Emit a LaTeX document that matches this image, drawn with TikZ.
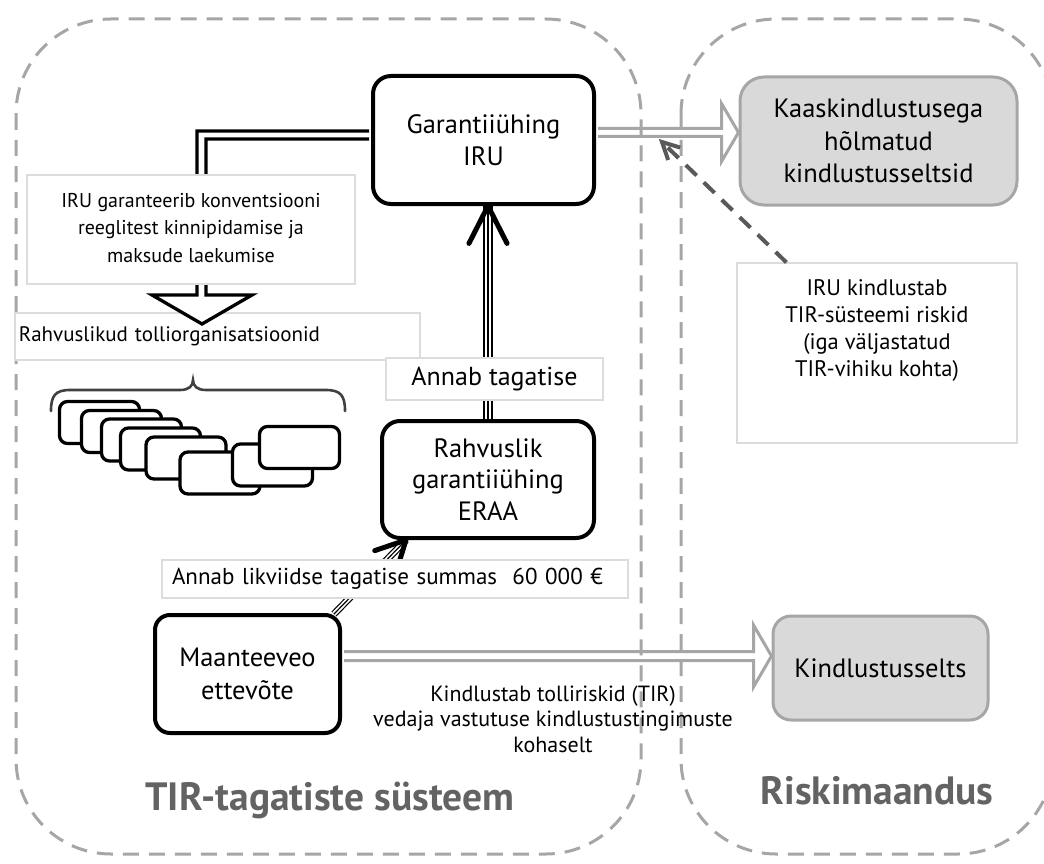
\documentclass[tikz,border=0pt]{standalone}
\usepackage{fontspec}
\setmainfont{PT Sans}
\usetikzlibrary{calc}
\definecolor{boxgray}{HTML}{D9D9D9}
\definecolor{edgegray}{HTML}{A6A6A6}
\definecolor{dashgray}{HTML}{A6A6A6}
\definecolor{riskgray}{HTML}{595959}
\definecolor{titlegray}{HTML}{636363}
\definecolor{bracegray}{HTML}{404040}
\definecolor{labeledge}{HTML}{DCDCDC}

% horizontal hollow arrow: style, start, end, half shaft, half head, head length
\newcommand\hollowarrow[6]{%
  \draw[#1] let \p1=(#2), \p2=(#3) in
    (\x1,\y1+#4) -- (\x2-#6,\y1+#4) -- (\x2-#6,\y1+#5) -- (\x2,\y1)
    -- (\x2-#6,\y1-#5) -- (\x2-#6,\y1-#4) -- (\x1,\y1-#4);}
% open chevron head: style, tip, point the line comes from, wing length
\newcommand\chevron[4]{%
  \draw[#1] ($(#2)!#4!27:(#3)$) -- (#2) -- ($(#2)!#4!-27:(#3)$);}

\begin{document}
\begin{tikzpicture}[x=1pt,y=-1pt,
  font=\fontsize{22.5}{26.7}\selectfont,
  blackbox/.style={draw=black, line width=4pt, rounded corners=18pt, fill=white,
    align=center, inner sep=0pt, font=\fontsize{26.5}{32}\selectfont},
  graybox/.style={draw=edgegray, fill=boxgray, line width=3pt, rounded corners=24pt,
    align=center, inner sep=0pt, font=\fontsize{26.5}{32.5}\selectfont},
  labelbox/.style={draw=labeledge, line width=1.2pt, fill=white, inner sep=0pt},
  stackbox/.style={draw=black, fill=white, line width=3.3pt, rounded corners=8pt,
    minimum width=80pt, minimum height=42pt, inner sep=0pt},
  area/.style={draw=dashgray, line width=3pt, dash pattern=on 16pt off 10pt,
    rounded corners=95pt},
  grayarrow/.style={draw=edgegray, line width=3pt, fill=white, line join=miter},
  blackarrow/.style={draw=black, line width=3.3pt, fill=white, line join=miter},
  tripleline/.style={draw=black, double=white, double distance=6.7pt, line width=1.7pt},
  thintriple/.style={draw=black, double=white, double distance=4.6pt, line width=1.2pt},
  chev/.style={draw=black, line width=5pt, line cap=round, line join=round},
  riskline/.style={draw=riskgray, line width=4pt, dash pattern=on 15pt off 10pt},
  riskchev/.style={draw=riskgray, line width=4pt, line join=miter},
  bracepath/.style={draw=bracegray, line width=2.6pt, line cap=round},
  title/.style={font=\fontsize{39.5}{44}\selectfont\bfseries, text=titlegray}
]
\useasboundingbox (0,0) rectangle (1044,864);

% main parties
\node[blackbox, minimum width=221pt, minimum height=128pt] (iru) at (483.5,140)
  {Garantiiühing\\IRU};
\node[graybox, minimum width=277pt, minimum height=128pt] (kaas) at (878.5,141)
  {Kaaskindlustusega\\hõlmatud\\kindlustusseltsid};
\node[blackbox, font=\fontsize{26.5}{31.5}\selectfont, minimum width=212pt,
  minimum height=117pt] (eraa) at (488,479.5) {Rahvuslik\\garantiiühing\\ERAA};
\node[blackbox, font=\fontsize{26.5}{33}\selectfont, rounded corners=15pt,
  minimum width=185pt, minimum height=118pt] (mant) at (247.5,674) {Maanteeveo\\ettevõte};
\node[graybox, rounded corners=18pt, minimum width=215pt, minimum height=104pt] (kind)
  at (880.5,668) {Kindlustusselts};

% insurance flows to the right
\hollowarrow{grayarrow}{$(iru.east)+(2,-7.5)$}{kaas.west}{4pt}{29pt}{17pt}
\hollowarrow{grayarrow}{$(mant.east)+(2,-18)$}{kind.west}{4.5pt}{31pt}{18pt}

% the two areas
\draw[area] (16,19) rectangle (641,854);
\draw[area] (681,19) rectangle (1053,854);

% national customs organisations
\node[stackbox] (o1) at (99.5,422.5) {};
\node[stackbox] (o2) at (121.5,431.5) {};
\node[stackbox] (o3) at (141.5,440) {};
\node[stackbox] (o4) at (160.5,449) {};
\node[stackbox] (o5) at (186,458) {};
\node[stackbox] (o6) at (220,473) {};
\node[stackbox] (o7) at (272.5,465) {};
\node[stackbox] (o8) at (299.5,447.5) {};
\draw[bracepath] (51,411) .. controls (51,396) and (55,390) .. (70,390)
  -- (180,390) .. controls (189,390) and (193,386) .. (193,380)
  .. controls (193,386) and (197,390) .. (206,390)
  -- (326,390) .. controls (341,390) and (345,396) .. (345,411);

\node[labelbox, text width=397pt, inner xsep=4pt, minimum height=47pt, align=left,
  font=\fontsize{21}{25}\selectfont] (rahv) at (217.5,336.5)
  {Rahvuslikud tolliorganisatsioonid};

% IRU guarantee towards customs
\coordinate (rahvtip) at (202,324);
\draw[blackarrow] ($(iru.west)+(-2,-9)$) -| ($(rahvtip)+(-5,-29)$)
  -- ($(rahvtip)+(-50,-29)$) -- (rahvtip) -- ($(rahvtip)+(50,-29)$)
  -- ($(rahvtip)+(4,-29)$) |- ($(iru.west)+(-2,-1)$);
\node[labelbox, minimum width=328pt, minimum height=109pt, font=\fontsize{20}{27.5}\selectfont]
  (iruinfo) at (191,229.5)
  {\parbox[t][101pt][t]{320pt}{\centering\vspace*{14pt}IRU garanteerib konventsiooni\\
   reeglitest kinnipidamise ja\\maksude laekumise}};

% national association guarantees to IRU
\coordinate (guartip) at (eraa.north |- iru.south);
\draw[tripleline] (eraa.north) -- (guartip);
\draw[line width=1.7pt] (eraa.north) -- (guartip);
\chevron{chev}{guartip}{eraa.north}{42pt}
\node[labelbox, minimum width=217pt, minimum height=42pt, font=\fontsize{26}{30}\selectfont]
  (annab) at (494.5,379) {Annab tagatise};

% carrier gives liquid guarantee to the association
\coordinate (mfrom) at ($(mant.north east)+(-8,1)$);
\coordinate (etip) at ($(eraa.south west)+(26,0)$);
\draw[thintriple] (mfrom) -- (etip);
\draw[line width=1.2pt] (mfrom) -- (etip);
\chevron{chev}{etip}{mfrom}{33pt}
\node[labelbox, text width=446pt, inner xsep=10pt, minimum height=38pt, align=left,
  font=\fontsize{23}{26}\selectfont]
  (likv) at (395,579) {Annab likviidse tagatise summas\ \ 60 000 €};

% IRU reinsurance
\node[labelbox, minimum width=280pt, minimum height=180pt] (kinfo) at (877,353)
  {\parbox[t][170pt][t]{270pt}{\centering\vspace*{12pt}IRU kindlustab\\TIR-süsteemi riskid\\
   (iga väljastatud\\TIR-vihiku kohta)}};
\coordinate (riskfrom) at ($(kinfo.north west)+(50,0)$);
\coordinate (riskpt) at (662,142);
\draw[riskline] (riskfrom) -- (riskpt);
\chevron{riskchev}{riskpt}{riskfrom}{19pt}

\node[align=center, font=\fontsize{22}{25.5}\selectfont] (ktext) at (553,719)
  {Kindlustab tolliriskid (TIR)\\vedaja vastutuse kindlustustingimuste\\kohaselt};

% area titles
\node[title] (t1) at (330,800) {TIR-tagatiste süsteem};
\node[title] (t2) at (877,791) {Riskimaandus};
\end{tikzpicture}
\end{document}
